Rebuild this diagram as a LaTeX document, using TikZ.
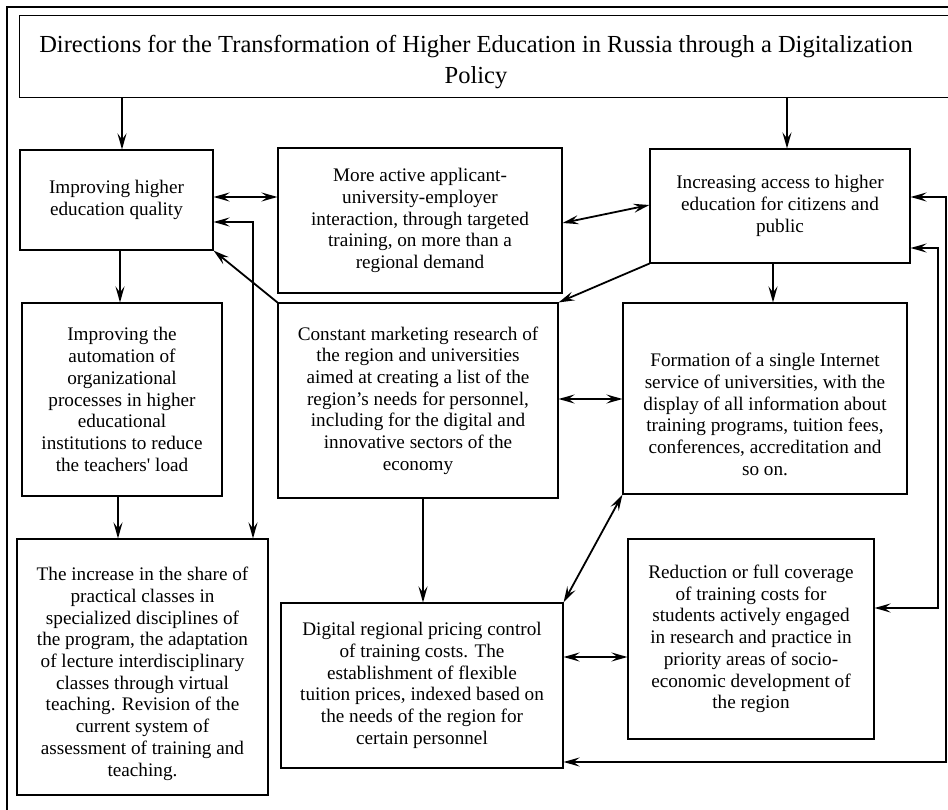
\documentclass[tikz,border=0pt]{standalone}
\usepackage{fontspec}
\setmainfont{Liberation Serif}
\usetikzlibrary{arrows.meta}
\begin{document}
\begin{tikzpicture}[x=1pt,y=-1pt,
  box/.style={draw, line width=1.1pt, inner sep=0pt, align=center,
    font=\rmfamily\fontsize{19.2}{21.7}\selectfont},
  tip/.tip={Stealth[length=16pt,width=9pt,inset=6pt]},
  conn/.style={line width=1.8pt, -tip},
  dconn/.style={line width=1.8pt, tip-tip}]
\useasboundingbox (0,0) rectangle (948,810);
\draw[line width=1.1pt] (948,7) -- (7,7) -- (7,810);
% title
\node (T) [draw, line width=1.1pt, inner sep=0pt, minimum width=951, minimum height=82, anchor=north west] at (19,15) {};
\node (Tt) [align=center, inner sep=0pt, font=\rmfamily\fontsize{24.5}{31}\selectfont] at (476,62)
  {Directions for the Transformation of Higher Education in Russia through a Digitalization\\Policy};
% boxes
\node (A) [box, minimum width=193, minimum height=100] at (116.5,200)
  {Improving higher\\education quality};
\node (B) [box, minimum width=284, minimum height=145] at (420,220.5)
  {More active applicant-\\university-employer\\interaction, through targeted\\training, on more than a\\regional demand};
\node (C) [box, minimum width=260, minimum height=114] at (780,206)
  {Increasing access to higher\\education for citizens and\\public};
\node (D) [box, minimum width=200, minimum height=193] at (122,399.5)
  {Improving the\\automation of\\organizational\\processes in higher\\educational\\institutions to reduce\\the teachers\textquotesingle{} load};
\node (E) [box, minimum width=280, minimum height=195] at (418,400.5)
  {Constant marketing research of\\the region and universities\\aimed at creating a list of the\\region’s needs for personnel,\\including for the digital and\\innovative sectors of the\\economy};
\node (F) [box, minimum width=284, minimum height=191] at (765,398.5)
  {\rule{0pt}{45pt}Formation of a single Internet\\service of universities, with the\\display of all information about\\training programs, tuition fees,\\conferences, accreditation and\\so on.};
\node (G) [box, minimum width=251, minimum height=256] at (142.5,667)
  {\rule{0pt}{27pt}The increase in the share of\\practical classes in\\specialized disciplines of\\the program, the adaptation\\of lecture interdisciplinary\\classes through virtual\\teaching. Revision of the\\current system of\\assessment of training and\\teaching.};
\node (H) [box, minimum width=282, minimum height=165] at (422,685.5)
  {Digital regional pricing control\\of training costs. The\\establishment of flexible\\tuition prices, indexed based on\\the needs of the region for\\certain personnel};
\node (I) [box, minimum width=246, minimum height=200] at (751,639)
  {Reduction or full coverage\\of training costs for\\students actively engaged\\in research and practice in\\priority areas of socio-\\economic development of\\the region};
% connectors
\draw[conn] (T.south -| 122,0) -- (A.north -| 122,0);
\draw[conn] (T.south -| 787,0) -- (C.north -| 787,0);
\draw[dconn] (A.east |- 0,197) -- (B.west |- 0,197);
\draw[dconn] (A.east |- 0,222) -| (G.north -| 253,0);
\draw[conn] (E.north west) -- (A.south east);
\draw[dconn] (B.east |- 0,223) -- (C.west |- 0,205);
\draw[conn] (C.south west) -- (E.north east);
\draw[conn] (A.south -| 120,0) -- (D.north -| 120,0);
\draw[conn] (D.south -| 118,0) -- (G.north -| 118,0);
\draw[conn] (C.south -| 773,0) -- (F.north -| 773,0);
\draw[dconn] (E.east |- 0,399) -- (F.west |- 0,399);
\draw[conn] (E.south -| 423,0) -- (H.north -| 423,0);
\draw[dconn] (H.north east) -- (F.south west);
\draw[dconn] (H.east |- 0,657) -- (I.west |- 0,657);
\draw[dconn] (H.east |- 0,762) -| (946,197) -- (C.east |- 0,197);
\draw[dconn] (I.east |- 0,608) -| (938,248) -- (C.east |- 0,248);
\end{tikzpicture}
\end{document}
